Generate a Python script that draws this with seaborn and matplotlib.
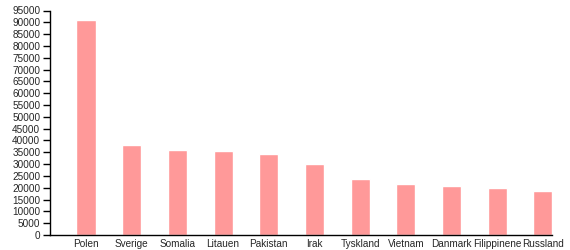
import matplotlib
matplotlib.use("Agg")
import matplotlib.pyplot as plt
import seaborn as sns
import pandas as pd

countries = ["Polen", "Sverige", "Somalia", "Litauen", "Pakistan", "Irak",
             "Tyskland", "Vietnam", "Danmark", "Filippinene", "Russland"]
values = [91000, 38000, 36000, 35500, 34300, 30000, 23700, 21600, 20700, 19900, 18600]
y_ticks = list(range(0, 95001, 5000))

sns.set_style("white")
plt.rcParams['font.family'] = ['Liberation Sans', 'DejaVu Sans']

df = pd.DataFrame({"country": countries, "value": values})

fig = plt.figure(figsize=(5.7, 2.5), dpi=100)
ax = fig.add_axes([50/570, 1-235/250, (552-50)/570, (235-10.5)/250])
sns.barplot(data=df, x="country", y="value", color="#ff9999", saturation=1,
            width=0.416, ax=ax)
ax.set_xlim(-0.788, 10.2)
ax.set_ylim(0, 95000)
ax.set_yticks(y_ticks)
ax.set_yticklabels([str(t) for t in y_ticks])
ax.set_xlabel("")
ax.set_ylabel("")
for s in ["top", "right"]:
    ax.spines[s].set_visible(False)
for s in ["left", "bottom"]:
    ax.spines[s].set_color("black")
    ax.spines[s].set_linewidth(1)
ax.tick_params(axis="y", length=5, width=1, color="black", labelsize=7.2, pad=2, left=True)
ax.tick_params(axis="x", length=0, labelsize=7.2, pad=3)
fig.savefig("out.png", dpi=100)
